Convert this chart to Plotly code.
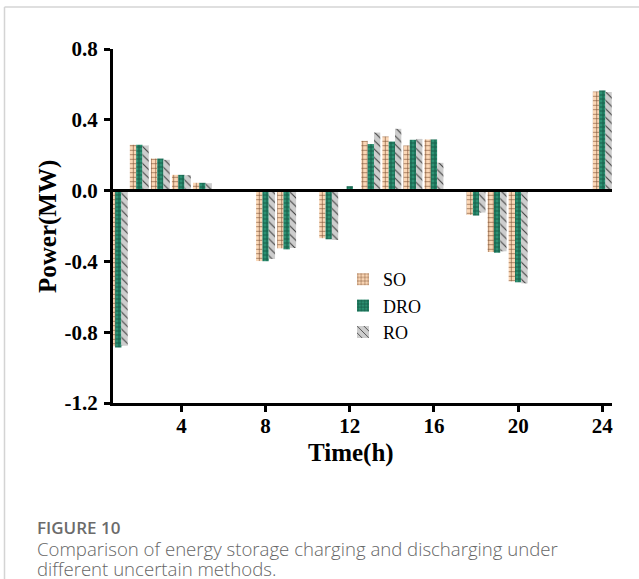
import plotly.graph_objects as go

hours = list(range(1, 25))
so_vals = [-0.88, 0.259, 0.181, 0.089, 0.044, None, None, -0.398, -0.326, None, -0.269, None,
           0.281, 0.306, 0.255, 0.289, None, -0.137, -0.347, -0.513, None, None, None, 0.560]
dro_vals = [-0.886, 0.259, 0.181, 0.089, 0.044, None, None, -0.399, -0.332, None, -0.275, 0.025,
            0.263, 0.277, 0.287, 0.289, None, -0.141, -0.351, -0.518, None, None, None, 0.566]
ro_vals = [-0.877, 0.255, 0.174, 0.087, 0.042, None, None, -0.386, -0.324, None, -0.279, None,
           0.328, 0.349, 0.292, 0.157, None, -0.124, -0.343, -0.524, None, None, None, 0.557]
series_names = ["SO", "DRO", "RO"]
y_ticks = [-1.2, -0.8, -0.4, 0.0, 0.4, 0.8]
y_tick_labels = ["-1.2", "-0.8", "-0.4", "0.0", "0.4", "0.8"]
x_ticks = [4, 8, 12, 16, 20, 24]

W, H = 639, 579
ML, MR, MT, MB = 113, 27, 49, 176
PW, PH = W - ML - MR, H - MT - MB


def px_x(px):
    return (px - ML) / PW


def px_y(py):
    return (H - MB - py) / PH


serif = "Liberation Serif"
styles = [
    dict(bg="#FBD7B6", fg="#7A4E30", shape="+", size=4.5, solidity=0.25),
    dict(bg="#2C9172", fg="#17604B", shape="+", size=4, solidity=0.45),
    dict(bg="#CDCDCD", fg="#404040", shape="\\", size=6, solidity=0.18),
]

fig = go.Figure()
for name, vals, st in zip(series_names, [so_vals, dro_vals, ro_vals], styles):
    fig.add_trace(go.Bar(
        x=hours, y=vals, name=name,
        marker=dict(
            color=st["bg"],
            line=dict(width=0),
            pattern=dict(shape=st["shape"], bgcolor=st["bg"], fgcolor=st["fg"],
                         size=st["size"], solidity=st["solidity"], fillmode="replace"),
        ),
    ))

axis_font = dict(family=serif, size=21, color="black", weight="bold")
yaxis = dict(range=[-1.2, 0.8], tickvals=y_ticks, ticktext=y_tick_labels, ticks="outside", ticklen=6,
             tickwidth=2.5, tickcolor="black", showline=True, linewidth=3, linecolor="black",
             showgrid=False, zeroline=True, zerolinewidth=3, zerolinecolor="black",
             tickfont=axis_font, ticklabelstandoff=2)

fig.update_layout(
    width=W, height=H,
    margin=dict(l=ML, r=MR, t=MT, b=MB),
    paper_bgcolor="white", plot_bgcolor="white",
    barmode="group", bargap=0.1, bargroupgap=0,
    showlegend=True,
    legend=dict(x=px_x(343), y=px_y(306), xanchor="left", yanchor="middle",
                bgcolor="rgba(0,0,0,0)", font=dict(family=serif, size=18, color="black"),
                tracegroupgap=0),
    xaxis=dict(range=[0.75, 24.46], tickvals=x_ticks, ticks="outside", ticklen=6, tickwidth=2.5,
               tickcolor="black", showline=True, linewidth=3, linecolor="black",
               showgrid=False, zeroline=False, tickfont=axis_font, ticklabelstandoff=-4),
    yaxis=yaxis,
    xaxis2=dict(range=[0.75, 24.46], tickvals=x_ticks, overlaying="x", side="top", anchor="y",
                ticks="inside", ticklen=6, tickwidth=2.5, tickcolor="black", showline=True,
                linewidth=3, linecolor="black", showticklabels=False, showgrid=False, zeroline=False),
    yaxis2=dict(range=[-1.2, 0.8], tickvals=y_ticks, overlaying="y", side="right", anchor="x",
                ticks="inside", ticklen=6, tickwidth=2.5, tickcolor="black", showline=True,
                linewidth=3, linecolor="black", showticklabels=False, showgrid=False, zeroline=False),
)
try:
    fig.update_layout(yaxis_zerolinelayer="above traces")
except Exception:
    pass

# axis titles
fig.add_annotation(text="<b>Time(h)</b>", xref="paper", yref="paper", x=px_x(351), y=px_y(453),
                   xanchor="center", yanchor="middle", showarrow=False,
                   font=dict(family=serif, size=25, color="black"))
fig.add_annotation(text="<b>Power(MW)</b>", xref="paper", yref="paper", x=px_x(48), y=px_y(227),
                   xanchor="center", yanchor="middle", showarrow=False, textangle=-90,
                   font=dict(family=serif, size=25, color="black"))

# caption
cap_font = "Open Sans"
fig.add_annotation(text="FIGURE 10", xref="paper", yref="paper", x=px_x(35), y=px_y(527),
                   xanchor="left", yanchor="middle", showarrow=False,
                   font=dict(family=cap_font, size=17, color="#6b6b6b", weight=600))
fig.add_annotation(text="Comparison of energy storage charging and discharging under",
                   xref="paper", yref="paper", x=px_x(35), y=px_y(548.5),
                   xanchor="left", yanchor="middle", showarrow=False,
                   font=dict(family=cap_font, size=18.6, color="#666666", weight=300))
fig.add_annotation(text="different uncertain methods.",
                   xref="paper", yref="paper", x=px_x(35), y=px_y(568.5),
                   xanchor="left", yanchor="middle", showarrow=False,
                   font=dict(family=cap_font, size=18.6, color="#666666", weight=300))

# card border (top and left edges)
fig.add_shape(type="line", xref="paper", yref="paper", x0=px_x(4.5), x1=px_x(639),
              y0=px_y(7), y1=px_y(7), line=dict(color="#d4d4d4", width=1.5))
fig.add_shape(type="line", xref="paper", yref="paper", x0=px_x(4.5), x1=px_x(4.5),
              y0=px_y(7), y1=px_y(579), line=dict(color="#d4d4d4", width=1.5))

fig.write_html(
    "out.html",
    config={"displayModeBar": False},
    post_script="document.body.style.margin='0';document.documentElement.style.overflow='hidden';",
)
